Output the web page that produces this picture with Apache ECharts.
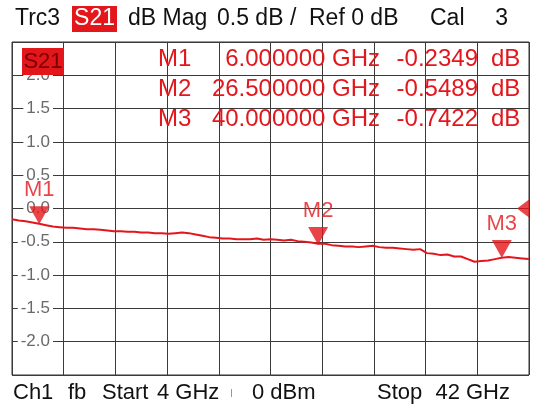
<!DOCTYPE html>
<html>
<head>
<meta charset="utf-8">
<script src="https://cdn.jsdelivr.net/npm/echarts@6/dist/echarts.min.js"></script>
<style>
  html, body { margin: 0; padding: 0; background: #fff; }
  #chart { width: 537px; height: 410px; }
</style>
</head>
<body>
<div id="chart"></div>
<script>
// sweep 4 .. 42 GHz, trace values in dB every 0.5 GHz
const START_GHZ = 4
const STOP_GHZ = 42
const STEP_GHZ = 0.5
const traceDb = [
  -0.16, -0.18, -0.19, -0.21, -0.23, -0.25, -0.27, -0.28, -0.29, -0.29,
  -0.30, -0.31, -0.31, -0.32, -0.33, -0.34, -0.34, -0.35, -0.35, -0.36,
  -0.36, -0.37, -0.37, -0.38, -0.37, -0.36, -0.37, -0.39, -0.41, -0.43,
  -0.44, -0.45, -0.45, -0.46, -0.46, -0.46, -0.45, -0.47, -0.46, -0.47,
  -0.48, -0.47, -0.49, -0.50, -0.51, -0.53, -0.53, -0.55, -0.56, -0.57,
  -0.57, -0.58, -0.57, -0.56, -0.58, -0.59, -0.59, -0.60, -0.61, -0.62,
  -0.61, -0.67, -0.68, -0.70, -0.69, -0.72, -0.72, -0.76, -0.80, -0.79,
  -0.78, -0.76, -0.74, -0.73, -0.74, -0.75, -0.76
]
const markerNames = ['M1', 'M2', 'M3']
const markerGhz = [6.0, 26.5, 40.0]
const markerDb = [-0.2349, -0.5489, -0.7422]
const REF_DB = 0
const DB_PER_DIV = 0.5
const yTicks = [2.0, 1.5, 1.0, 0.5, 0.0, -0.5, -1.0, -1.5, -2.0]

const RED = '#e3161c'
const FONT = 'Liberation Sans'

// x axis runs in GHz from start so the 10 divisions line up with the ticks
const span = STOP_GHZ - START_GHZ
const traceData = traceDb.map((v, i) => [i * STEP_GHZ, v])
const markerData = markerGhz.map((f, i) => ({ name: markerNames[i], value: [f - START_GHZ, markerDb[i]] }))

const chart = echarts.init(document.getElementById('chart'))

const txt = (text, x, y, opts) => ({
  type: 'text', x: x, y: y, z: 10,
  style: Object.assign({ text: text, font: '22px "' + FONT + '"', fill: '#111', textVerticalAlign: 'middle' }, opts || {})
})
const HEAD = '23px "' + FONT + '"'
const TABLE = '24px "' + FONT + '"'

const tableRows = []
markerNames.forEach((n, i) => {
  const y = 59 + i * 30
  tableRows.push(txt(n, 158, y, { fill: RED, font: TABLE }))
  tableRows.push(txt(markerGhz[i].toFixed(6) + ' GHz', 380, y, { fill: RED, font: TABLE, textAlign: 'right' }))
  tableRows.push(txt(markerDb[i].toFixed(4), 478, y, { fill: RED, font: TABLE, textAlign: 'right' }))
  tableRows.push(txt('dB', 491, y, { fill: RED, font: TABLE }))
})

const option = {
  animation: false,
  backgroundColor: '#fff',
  grid: { left: 12, right: 8, top: 42, bottom: 35, show: true, borderColor: '#333', borderWidth: 1 },
  xAxis: {
    type: 'value', min: 0, max: span, interval: span / 10,
    axisLine: { show: false }, axisTick: { show: false }, axisLabel: { show: false },
    splitLine: { show: true, lineStyle: { color: '#3a3a3a', width: 1 } }
  },
  yAxis: {
    type: 'value', min: -5 * DB_PER_DIV, max: 5 * DB_PER_DIV, interval: DB_PER_DIV,
    axisLine: { show: false }, axisTick: { show: false },
    splitLine: { show: true, lineStyle: { color: '#3a3a3a', width: 1 } },
    axisLabel: {
      inside: true, align: 'right', margin: 41,
      color: '#6a6a6a', fontFamily: FONT, fontSize: 17,
      backgroundColor: '#fff', padding: [0, 3, 0, 3],
      formatter: v => yTicks.some(t => Math.abs(t - v) < 1e-6) ? v.toFixed(1) : ''
    }
  },
  series: [
    {
      type: 'line', data: traceData, showSymbol: false, z: 3,
      lineStyle: { color: RED, width: 2 }
    },
    {
      type: 'scatter', data: markerData, z: 5,
      symbol: 'path://M0,0 L20,0 L10,18 Z', symbolSize: [20, 18], symbolOffset: [0, -9],
      itemStyle: { color: RED },
      label: { show: true, position: 'top', distance: 5, formatter: '{b}', color: RED, fontFamily: FONT, fontSize: 22 }
    },
    {
      // reference level arrow on the right edge
      type: 'scatter', data: [[span, REF_DB]], z: 5, clip: false,
      symbol: 'path://M12,0 L12,18 L0,9 Z', symbolSize: [12, 18], symbolOffset: [-6, 0],
      itemStyle: { color: RED }
    }
  ],
  graphic: [
    txt('Trc3', 15, 19, { font: HEAD }),
    { type: 'rect', shape: { x: 72, y: 6, width: 45, height: 26 }, style: { fill: RED }, z: 9 },
    txt('S21', 94.5, 19, { fill: '#fff', textAlign: 'center', font: HEAD }),
    txt('dB Mag', 128, 19, { font: HEAD }),
    txt('0.5 dB /', 217, 19, { font: HEAD }),
    txt('Ref 0 dB', 309, 19, { font: HEAD }),
    txt('Cal', 430, 19, { font: HEAD }),
    txt('3', 508, 19, { textAlign: 'right', font: HEAD }),
    { type: 'rect', shape: { x: 22, y: 48, width: 42, height: 27 }, style: { fill: RED }, z: 9 },
    txt('S21', 43, 62, { fill: '#7a0000', textAlign: 'center' }),
    ...tableRows,
    txt('Ch1', 13, 393),
    txt('fb', 68, 393),
    txt('Start', 102, 393),
    txt('4 GHz', 157, 393),
    { type: 'rect', shape: { x: 231, y: 389, width: 1, height: 8 }, style: { fill: '#999' }, z: 9 },
    txt('0 dBm', 252, 393),
    txt('Stop', 377, 393),
    txt('42 GHz', 510, 393, { textAlign: 'right' })
  ]
}
chart.setOption(option)
</script>
</body>
</html>
